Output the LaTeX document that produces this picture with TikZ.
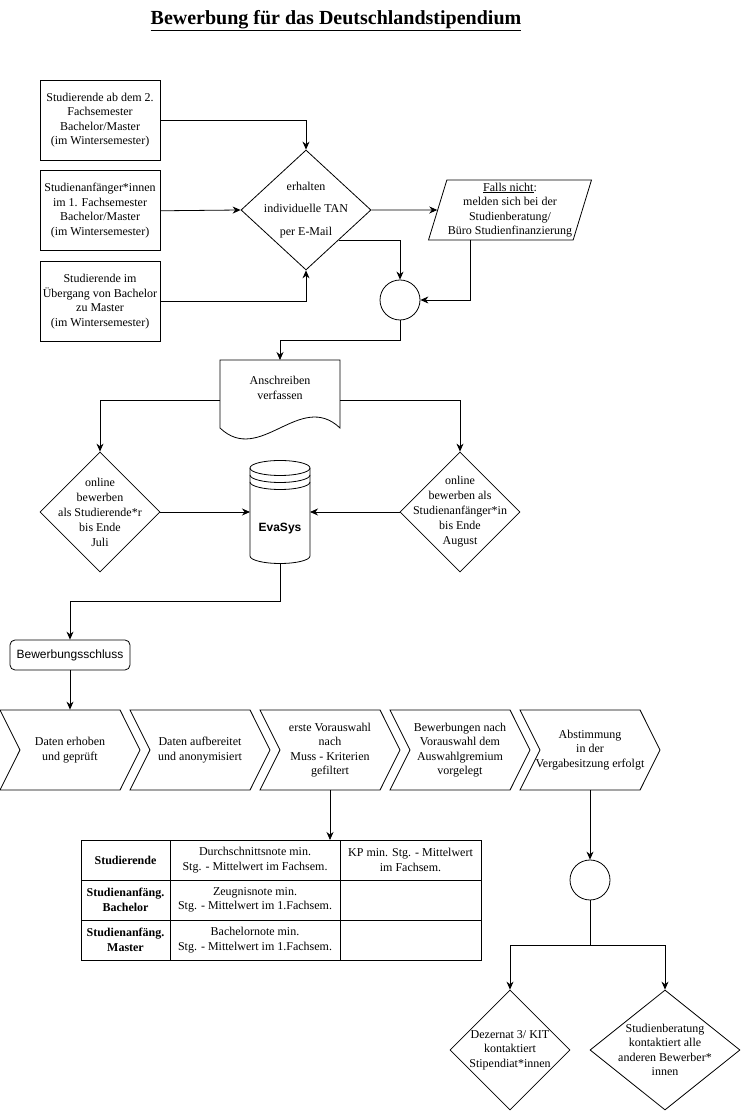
\documentclass[tikz,border=0pt]{standalone}
\usepackage{fontspec}
\setmainfont{Liberation Serif}
\setsansfont{Liberation Sans}
\usetikzlibrary{shapes.geometric,shapes.symbols,positioning,calc,arrows.meta}
\newcommand{\basefont}{\fontsize{12}{14.5}\selectfont}

\begin{document}
\begin{tikzpicture}[x=1pt, y=1pt, node distance=0pt, line width=0.8pt,
    font=\basefont, >={Stealth[length=8pt,width=7pt]},
    box/.style={draw, minimum width=120pt, minimum height=80pt, align=center, inner sep=1pt},
    decision/.style={draw, diamond, minimum width=120pt, minimum height=120pt, inner sep=0pt},
    mergept/.style={draw, circle, minimum size=40pt, inner sep=0pt},
    chev/.style={draw, signal, signal to=east, signal from=west, signal pointer angle=127,
                 minimum width=140pt, minimum height=80pt, align=center, inner sep=1pt},
    cell/.style={draw, minimum height=40pt, inner sep=1pt, outer sep=0pt, align=center}]

    \useasboundingbox (0,0) rectangle (741,1111);

    \node [font=\fontsize{20}{22}\selectfont\bfseries] (title) at (336,1090) {\underline{Bewerbung für das Deutschlandstipendium}};

    % Zielgruppen
    \node [box] (grp1) at (100,991) {Studierende ab dem 2.\\Fachsemester\\Bachelor/Master\\(im Wintersemester)};
    \node [box, below=10pt of grp1] (grp2) {Studienanfänger*innen\\im 1. Fachsemester\\Bachelor/Master\\(im Wintersemester)};
    \node [box, below=10pt of grp2] (grp3) {Studierende im\\Übergang von Bachelor\\zu Master\\(im Wintersemester)};

    % TAN
    \node [decision, minimum width=130pt] (tan) at (306,901) {};
    \node [align=center] (tantext) at (tan) {erhalten\\[8pt]individuelle TAN\\[8pt]per E-Mail};
    \node [draw, trapezium, trapezium left angle=72, trapezium right angle=108, trapezium stretches=true,
           minimum width=160pt, minimum height=60pt, inner sep=1pt, align=center] (falls) at (510,901)
          {\underline{Falls nicht}:\\melden sich bei der\\Studienberatung/\\Büro Studienfinanzierung};
    \node [mergept] (merge1) at (400,811) {};

    % Anschreiben
    \node [minimum width=120pt, minimum height=80pt, outer sep=0pt] (letter) at (280,711) {};
    \draw (letter.north west) -- (letter.north east) -- ($(letter.south east)+(0,12)$)
          .. controls ($(letter.south)+(20,50)$) and ($(letter.south)+(-20,-26)$) .. ($(letter.south west)+(0,12)$) -- cycle;
    \node [align=center] (lettertext) at ([yshift=12pt]letter.center) {Anschreiben\\verfassen};

    % online bewerben
    \node [decision] (appl1) at (100,599) {};
    \node [align=center, font=\fontsize{12}{15}\selectfont] (appl1text) at (appl1) {online\\bewerben\\als Studierende*r\\bis Ende\\Juli};
    \node [decision] (appl2) at (460,599) {};
    \node [align=center, font=\fontsize{12}{15}\selectfont] (appl2text) at (appl2) {online\\bewerben als\\Studienanfänger*in\\bis Ende\\August};

    % EvaSys
    \node [minimum width=60pt, minimum height=103pt, outer sep=0pt] (evasys) at (280,599) {};
    \draw ($(evasys.north)+(0,-7.5)$) ellipse [x radius=30, y radius=7.5];
    \draw ($(evasys.north west)+(0,-7.5)$) -- ($(evasys.south west)+(0,7.5)$)
          arc [start angle=180, end angle=360, x radius=30, y radius=7.5] -- ($(evasys.north east)+(0,-7.5)$);
    \draw ($(evasys.north west)+(0,-14.5)$) arc [start angle=180, end angle=360, x radius=30, y radius=7.5];
    \draw ($(evasys.north west)+(0,-21.5)$) arc [start angle=180, end angle=360, x radius=30, y radius=7.5];
    \node [font=\basefont\sffamily\bfseries] (evatext) at ([yshift=-17pt]evasys.center) {EvaSys};

    \node [draw, rounded corners=5pt, minimum width=120pt, minimum height=30pt, font=\basefont\sffamily] (close) at (70,456) {Bewerbungsschluss};

    % Prozesskette
    \node [chev] (step1) at (70,361) {Daten erhoben\\und geprüft};
    \node [chev] (step2) at ([xshift=130pt]step1) {Daten aufbereitet\\und anonymisiert};
    \node [chev] (step3) at ([xshift=130pt]step2) {erste Vorauswahl\\nach\\Muss - Kriterien\\gefiltert};
    \node [chev] (step4) at ([xshift=130pt]step3) {Bewerbungen nach\\Vorauswahl dem\\Auswahlgremium\\vorgelegt};
    \node [chev, inner xsep=-6pt] (step5) at ([xshift=130pt]step4) {Abstimmung\\in der\\Vergabesitzung erfolgt};

    % Kriterien
    \node [cell, minimum width=89pt, font=\basefont\bfseries] (crit11) at (125.5,251) {Studierende};
    \node [cell, minimum width=170pt, right=of crit11] (crit12) {Durchschnittsnote min.\\Stg. - Mittelwert im Fachsem.};
    \node [cell, minimum width=141pt, right=of crit12] (crit13) {KP min. Stg. - Mittelwert\\im Fachsem.};
    \node [cell, minimum width=89pt, below=of crit11, font=\basefont\bfseries] (crit21) {Studienanfäng.\\Bachelor};
    \node [cell, minimum width=170pt, right=of crit21] (crit22) {Zeugnisnote min.\\Stg. - Mittelwert im 1.Fachsem.};
    \node [cell, minimum width=141pt, right=of crit22] (crit23) {};
    \node [cell, minimum width=89pt, below=of crit21, font=\basefont\bfseries] (crit31) {Studienanfäng.\\Master};
    \node [cell, minimum width=170pt, right=of crit31] (crit32) {Bachelornote min.\\Stg. - Mittelwert im 1.Fachsem.};
    \node [cell, minimum width=141pt, right=of crit32] (crit33) {};

    % Ergebnis
    \node [mergept] (merge2) at (590,231) {};
    \node [decision] (notify1) at (510,61) {};
    \node [align=center] (notify1text) at (notify1) {Dezernat 3/ KIT\\kontaktiert\\Stipendiat*innen};
    \node [decision, minimum width=150pt] (notify2) at (665,61) {};
    \node [align=center] (notify2text) at (notify2) {Studienberatung\\kontaktiert alle\\anderen Bewerber*\\innen};

    \draw [->] (grp1.east) -| (tan.north);
    \draw [->] (grp2.east) -- (tan.west);
    \draw [->] (grp3.east) -| (tan.south);
    \draw [->] (tan.east) -- (falls.west);
    \draw [->] (tan.south east) -| (merge1.north);
    \draw [->] ([xshift=-40pt]falls.south) |- (merge1.east);
    \draw [->] (merge1.south) -- ++(0,-20) -| (letter.north);
    \draw [->] (letter.west) -| (appl1.north);
    \draw [->] (letter.east) -| (appl2.north);
    \draw [->] (appl1.east) -- (evasys.west);
    \draw [->] (appl2.west) -- (evasys.east);
    \draw [->] (evasys.south) -- ++(0,-38) -| (close.north);
    \draw [->] (close.south) -- (step1.north);
    \draw [->] (step3.south) -- (step3.south |- crit12.north);
    \draw [->] (step5.south) -- (merge2.north);
    \draw (merge2.south) -- ++(0,-45) coordinate (fork);
    \draw [->] (fork) -| (notify1.north);
    \draw [->] (fork) -| (notify2.north);

\end{tikzpicture}
\end{document}
